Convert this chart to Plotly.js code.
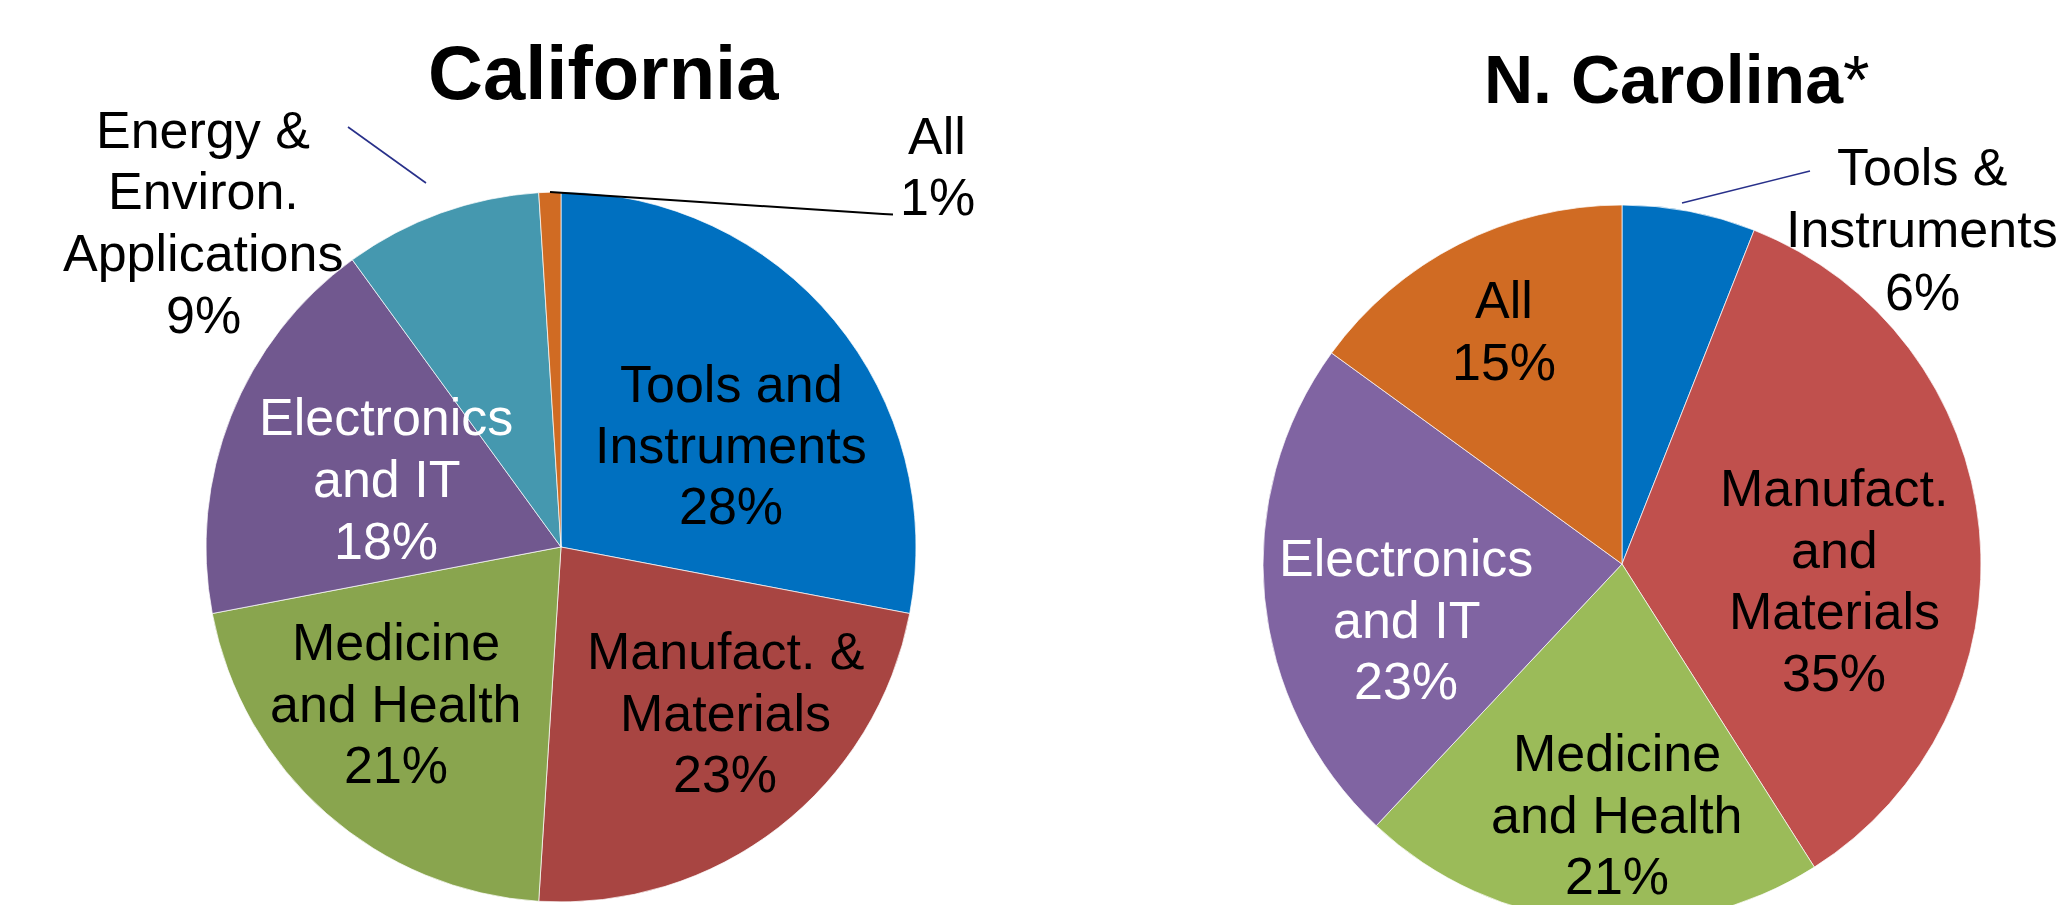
<!DOCTYPE html>
<html>
<head>
<meta charset="utf-8">
<script src="https://cdn.plot.ly/plotly-3.0.1.min.js"></script>
<style>
  html, body { margin: 0; padding: 0; overflow: hidden; background: #ffffff; }
</style>
</head>
<body>
<div id="chart"></div>
<script>
// Nanotechnology patent shares by application area, two states.
const caCategories = ['Tools and\nInstruments', 'Manufact. &\nMaterials', 'Medicine\nand Health', 'Electronics\nand IT', 'Energy &\nEnviron.\nApplications', 'All'];
const caShares = [28, 23, 21, 18, 9, 1];

const ncCategories = ['Tools &\nInstruments', 'Manufact.\nand\nMaterials', 'Medicine\nand Health', 'Electronics\nand IT', 'All'];
const ncShares = [6, 35, 21, 23, 15];

const chartTitles = ['California', 'N. Carolina'];

// Slice colours
const caColors = ['#0070C0', '#A84542', '#89A54E', '#71588F', '#4598AF', '#D06B23'];
const ncColors = ['#0070C0', '#C0504D', '#9BBB59', '#8064A2', '#D06B23'];

// Canvas size (taller than the window so the lower pie runs off the bottom edge)
const W = 2059, H = 940;
const px = x => x / W;
const py = y => 1 - y / H;

const FONT = 'Liberation Sans, Arial, Helvetica, sans-serif';
const LABEL_SIZE = 52;

// Label placement per slice: centre x, first line y, line pitch, colour
const caLabelPos = [
  { x: 731, y: 384, pitch: 61, color: '#000' },
  { x: 725, y: 651, pitch: 61.5, color: '#000' },
  { x: 396, y: 642, pitch: 61.5, color: '#000' },
  { x: 386, y: 417, pitch: 62, color: '#fff' },
  { x: 203, y: 130, pitch: 61.5, color: '#000' },
  { x: 937, y: 136, pitch: 61, color: '#000' }
];
const ncLabelPos = [
  { x: 1922, y: 167, pitch: 62.5, color: '#000' },
  { x: 1834, y: 488, pitch: 61.7, color: '#000' },
  { x: 1617, y: 753, pitch: 61.7, color: '#000' },
  { x: 1406, y: 558, pitch: 61.5, color: '#fff' },
  { x: 1504, y: 300, pitch: 61.5, color: '#000' }
];

function sliceLabels(categories, shares, positions) {
  const out = [];
  categories.forEach((cat, i) => {
    const lines = cat.split('\n').concat([shares[i] + '%']);
    const p = positions[i];
    lines.forEach((line, k) => {
      out.push({
        text: line,
        xref: 'paper', yref: 'paper',
        x: px(p.x), y: py(p.y + k * p.pitch),
        xanchor: 'center', yanchor: 'middle',
        showarrow: false,
        font: { family: FONT, size: LABEL_SIZE, color: p.color }
      });
    });
  });
  return out;
}

function pieTrace(categories, shares, colors, cx, cy, r) {
  return {
    type: 'pie',
    labels: categories.map(c => c.replace(/\n/g, ' ')),
    values: shares,
    sort: false,
    direction: 'clockwise',
    rotation: 0,
    textinfo: 'none',
    hoverinfo: 'none',
    showlegend: false,
    marker: { colors: colors, line: { color: 'rgba(255,255,255,0.7)', width: 1 } },
    domain: { x: [px(cx - r), px(cx + r)], y: [py(cy + r), py(cy - r)] }
  };
}

const data = [
  pieTrace(caCategories, caShares, caColors, 561, 547, 355),
  pieTrace(ncCategories, ncShares, ncColors, 1622, 564, 359)
];

const annotations = [
  {
    text: '<b>' + chartTitles[0] + '</b>',
    xref: 'paper', yref: 'paper', x: px(603), y: py(72), xanchor: 'center', yanchor: 'middle',
    showarrow: false, font: { family: FONT, size: 76, color: '#000' }
  },
  {
    text: '<b>' + chartTitles[1] + '</b>*',
    xref: 'paper', yref: 'paper', x: px(1676), y: py(79), xanchor: 'center', yanchor: 'middle',
    showarrow: false, font: { family: FONT, size: 68, color: '#000' }
  }
].concat(sliceLabels(caCategories, caShares, caLabelPos))
 .concat(sliceLabels(ncCategories, ncShares, ncLabelPos));

// Leader lines for the small slices
const shapes = [
  { type: 'line', xref: 'paper', yref: 'paper', x0: px(348), y0: py(127), x1: px(426), y1: py(183),
    line: { color: '#28308A', width: 1.6 } },
  { type: 'path', xref: 'paper', yref: 'paper',
    path: `M ${px(550)} ${py(192)} L ${px(883)} ${py(214)} L ${px(893)} ${py(214.5)}`,
    line: { color: '#000000', width: 2 } },
  { type: 'line', xref: 'paper', yref: 'paper', x0: px(1810), y0: py(171), x1: px(1682), y1: py(203),
    line: { color: '#28308A', width: 1.6 } }
];

const layout = {
  width: W, height: H,
  margin: { l: 0, r: 0, t: 0, b: 0, pad: 0 },
  paper_bgcolor: '#ffffff',
  plot_bgcolor: '#ffffff',
  showlegend: false,
  annotations: annotations,
  shapes: shapes
};

Plotly.newPlot('chart', data, layout, { displayModeBar: false, staticPlot: true });
</script>
</body>
</html>
